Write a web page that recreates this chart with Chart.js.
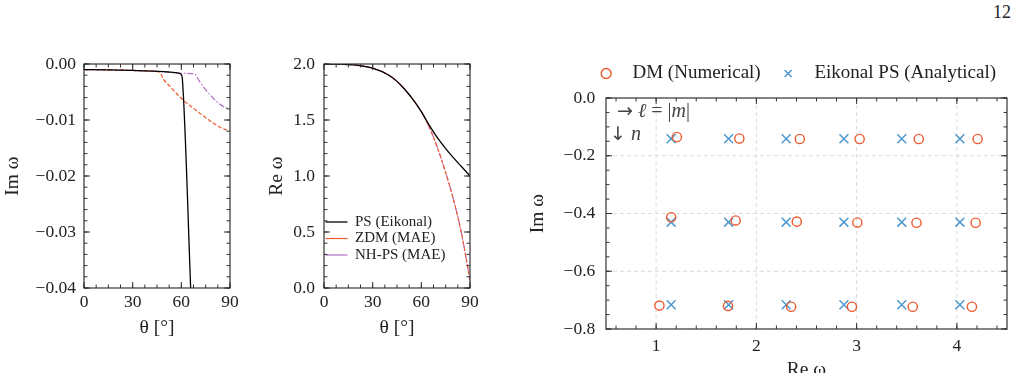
<!DOCTYPE html>
<html>
<head>
<meta charset="utf-8">
<script src="https://cdn.jsdelivr.net/npm/chart.js@4.4.1/dist/chart.umd.min.js"></script>
<style>
  html, body { margin: 0; padding: 0; background: #fff; width: 1020px; height: 373px; overflow: hidden; }
  .box { position: absolute; }
  #page { position: absolute; left: 993px; top: 3px; font: 18px 'Liberation Serif', serif; color: #222; line-height: 18px; }
</style>
</head>
<body>
<div id="page">12</div>
<div class="box" style="left:0;top:40px;width:250px;height:300px"><canvas id="c1"></canvas></div>
<div class="box" style="left:250px;top:40px;width:240px;height:300px"><canvas id="c2"></canvas></div>
<div class="box" style="left:520px;top:40px;width:500px;height:345px"><canvas id="c3"></canvas></div>
<script>
// === Data ===
// left panel: Im omega vs theta
const thetaPS = [0, 15, 30, 45, 55, 59, 60, 60.6, 66];
const imPS = [-0.00100, -0.00105, -0.00115, -0.00130, -0.00150, -0.00168, -0.00190, -0.00260, -0.04190];
const thetaZDM = [0, 15, 30, 45, 46.8, 48.9, 53, 60.2, 67.4, 75.6, 83.8, 90];
const imZDM = [-0.00100, -0.00105, -0.00115, -0.00135, -0.00150, -0.0027, -0.0040, -0.0062, -0.0079, -0.0097, -0.0113, -0.0120];
const thetaNH = [0, 15, 30, 45, 60, 68.4, 70.5, 73.6, 77.7, 81.8, 85.9, 90];
const imNH = [-0.00100, -0.00105, -0.00115, -0.00130, -0.00165, -0.00180, -0.0028, -0.0041, -0.0055, -0.0067, -0.0076, -0.0080];

// middle panel: Re omega vs theta
const thetaRe = [0, 10, 20, 30, 40, 45, 50, 55, 60, 64, 70, 75, 80, 85, 90];
const rePS = [2.0, 1.998, 1.99, 1.963, 1.90, 1.845, 1.77, 1.68, 1.575, 1.475, 1.34, 1.245, 1.16, 1.08, 1.0];
const reZDM = [2.0, 1.998, 1.99, 1.963, 1.90, 1.845, 1.77, 1.68, 1.575, 1.465, 1.25, 1.03, 0.78, 0.47, 0.07];
const reNH = [2.0, 1.998, 1.99, 1.963, 1.90, 1.845, 1.77, 1.68, 1.575, 1.465, 1.25, 1.03, 0.78, 0.47, 0.07];

// right panel: QNM spectrum
const reDM = [1.207, 1.83, 2.433, 3.03, 3.62, 4.207,
              1.15, 1.793, 2.403, 3.007, 3.597, 4.187,
              1.033, 1.717, 2.347, 2.953, 3.56, 4.15];
const imDM = [-0.135, -0.140, -0.142, -0.142, -0.142, -0.142,
              -0.413, -0.424, -0.428, -0.431, -0.432, -0.432,
              -0.719, -0.720, -0.723, -0.723, -0.723, -0.723];
const reEik = [1.15, 1.723, 2.297, 2.873, 3.45, 4.03,
               1.15, 1.723, 2.297, 2.873, 3.45, 4.03,
               1.15, 1.723, 2.297, 2.873, 3.45, 4.03];
const imEik = [-0.141, -0.141, -0.141, -0.141, -0.141, -0.141,
               -0.430, -0.430, -0.430, -0.430, -0.430, -0.430,
               -0.716, -0.716, -0.716, -0.716, -0.716, -0.716];
const reTicks = [1, 2, 3, 4];

const seriesLabels = ['PS (Eikonal)', 'ZDM (MAE)', 'NH-PS (MAE)'];
const scatterLabels = ['DM (Numerical)', 'Eikonal PS (Analytical)'];
// 0 = upright, 1 = italic, 2 = arrow glyph
const noteRight = [['\u2192', 2], [' ', 0], ['\u2113', 1], [' = |', 0], ['m', 1], ['|', 0]];
const noteDown = [['\u2193', 2], [' ', 0], ['n', 1]];

// === Styling ===
const ink = '#222';
const orange = '#EE5A30';
const blue = '#4D98CF';
const purple = '#B36FC3';
const serif = "'Liberation Serif', serif";
const tickFont = { family: serif, size: 17.5 };
const titleFont = { family: serif, size: 19.5 };

Chart.defaults.font.family = serif;
Chart.defaults.color = ink;

const pts = (xs, ys) => xs.map((x, i) => ({ x, y: ys[i] }));
const fmt = d => v => (v < 0 ? '\u2212' : '') + Math.abs(v).toFixed(d);
const noGrid = { display: false, drawTicks: false };

// === Frame with inward ticks (+ optional dashed grid) ===
const frame = {
  id: 'frame',
  beforeDatasetsDraw(chart, args, o) {
    if (!o.grid) return;
    const { ctx, chartArea: a, scales: { x, y } } = chart;
    ctx.save();
    ctx.strokeStyle = '#d2d2d2';
    ctx.lineWidth = 0.8;
    ctx.setLineDash([4, 3]);
    x.ticks.forEach(t => {
      const p = x.getPixelForValue(t.value);
      ctx.beginPath(); ctx.moveTo(p, a.top); ctx.lineTo(p, a.bottom); ctx.stroke();
    });
    y.ticks.forEach(t => {
      if (t.value <= y.min || t.value >= y.max) return;
      const p = y.getPixelForValue(t.value);
      ctx.beginPath(); ctx.moveTo(a.left, p); ctx.lineTo(a.right, p); ctx.stroke();
    });
    ctx.restore();
  },
  afterDatasetsDraw(chart, args, o) {
    const { ctx, chartArea: a, scales: { x, y } } = chart;
    const seg = (x1, y1, x2, y2) => { ctx.beginPath(); ctx.moveTo(x1, y1); ctx.lineTo(x2, y2); ctx.stroke(); };
    const steps = (s, step) => {
      const out = [];
      for (let i = Math.ceil(s.min / step - 1e-6); i * step <= s.max + 1e-9; i++) out.push(i * step);
      return out;
    };
    const tickX = (v, len) => { const p = x.getPixelForValue(v); seg(p, a.bottom, p, a.bottom - len); seg(p, a.top, p, a.top + len); };
    const tickY = (v, len) => { const p = y.getPixelForValue(v); seg(a.left, p, a.left + len, p); seg(a.right, p, a.right - len, p); };
    ctx.save();
    ctx.strokeStyle = '#333';
    ctx.lineWidth = 1;
    steps(x, o.minorX).forEach(v => tickX(v, 3.5));
    steps(y, o.minorY).forEach(v => tickY(v, 3.5));
    x.ticks.forEach(t => tickX(t.value, 6));
    y.ticks.forEach(t => tickY(t.value, 6));
    ctx.lineWidth = 1.2;
    ctx.strokeRect(a.left, a.top, a.right - a.left, a.bottom - a.top);
    ctx.restore();
  }
};

// === Text notes in the spectrum panel ===
const notes = {
  id: 'notes',
  afterDatasetsDraw(chart) {
    const { ctx, chartArea: a } = chart;
    const run = (parts, x, y) => {
      parts.forEach(([txt, k]) => {
        ctx.font = k === 2 ? "19px 'DejaVu Sans', sans-serif" : (k === 1 ? 'italic ' : '') + '20px ' + serif;
        ctx.fillText(txt, x, y);
        x += ctx.measureText(txt).width;
      });
    };
    ctx.save();
    ctx.fillStyle = '#444';
    ctx.textBaseline = 'middle';
    run(noteRight, a.left + 11, a.top + 14);
    run(noteDown, a.left + 4, a.top + 37);
    ctx.restore();
  }
};

function thetaAxis(h, tickPad) {
  return {
    type: 'linear', min: 0, max: 90,
    grid: noGrid, border: { display: false },
    ticks: { stepSize: 30, padding: tickPad, font: tickFont, color: ink, autoSkip: false, maxRotation: 0 },
    title: { display: true, text: '\u03b8 [\u00b0]', font: titleFont, color: ink, padding: { top: 0, bottom: 0.3 } },
    afterFit: s => { s.height = h; }
  };
}

const lineSet = (label, xs, ys, color, dash) => ({
  label, data: pts(xs, ys), borderColor: color, backgroundColor: color,
  borderWidth: dash.length ? 1.2 : 1.3, borderDash: dash, pointRadius: 0, cubicInterpolationMode: 'monotone'
});

// === Left: Im omega ===
new Chart(document.getElementById('c1'), {
  type: 'line',
  data: {
    datasets: [
      lineSet(seriesLabels[0], thetaPS, imPS, '#000', []),
      lineSet(seriesLabels[1], thetaZDM, imZDM, orange, [4, 2]),
      lineSet(seriesLabels[2], thetaNH, imNH, purple, [6, 2, 1.5, 2])
    ]
  },
  options: {
    responsive: true, maintainAspectRatio: false, animation: false,
    layout: { padding: { left: 0, right: 20, top: 24, bottom: 0 } },
    plugins: { legend: { display: false }, tooltip: { enabled: false }, frame: { minorX: 7.5, minorY: 0.002 } },
    scales: {
      x: thetaAxis(52, 4),
      y: {
        type: 'linear', min: -0.04, max: 0,
        grid: noGrid, border: { display: false },
        ticks: { stepSize: 0.01, padding: 8, font: tickFont, color: ink, callback: fmt(2) },
        title: { display: true, text: 'Im \u03c9', font: titleFont, color: ink, padding: { top: 1.6, bottom: 0 } },
        afterFit: s => { s.width = 84; }
      }
    }
  },
  plugins: [frame]
});

// === Middle: Re omega ===
new Chart(document.getElementById('c2'), {
  type: 'line',
  data: {
    datasets: [
      lineSet(seriesLabels[0], thetaRe, rePS, '#000', []),
      lineSet(seriesLabels[1], thetaRe, reZDM, orange, [4, 2]),
      lineSet(seriesLabels[2], thetaRe, reNH, purple, [6, 2, 1.5, 2])
    ]
  },
  options: {
    responsive: true, maintainAspectRatio: false, animation: false,
    layout: { padding: { left: 0, right: 20, top: 24, bottom: 0 } },
    plugins: {
      tooltip: { enabled: false },
      frame: { minorX: 7.5, minorY: 0.1 },
      legend: {
        position: 'chartArea', align: 'end',
        labels: {
          font: { family: serif, size: 15 }, color: ink, padding: 1.5,
          usePointStyle: true, pointStyle: 'line', pointStyleWidth: 22, boxHeight: 2
        }
      }
    },
    scales: {
      x: thetaAxis(52, 4),
      y: {
        type: 'linear', min: 0, max: 2,
        grid: noGrid, border: { display: false },
        ticks: { stepSize: 0.5, padding: 9, font: tickFont, color: ink, callback: fmt(1) },
        title: { display: true, text: 'Re \u03c9', font: titleFont, color: ink, padding: { top: 14.8, bottom: 0 } },
        afterFit: s => { s.width = 74; }
      }
    }
  },
  plugins: [frame]
});

// === Right: spectrum ===
const dummyAxis = (position, size) => ({
  type: 'linear', position, display: true,
  grid: noGrid, border: { display: false }, ticks: { display: false },
  afterFit: s => { if (position === 'top') s.height = size; else s.width = size; }
});

new Chart(document.getElementById('c3'), {
  type: 'scatter',
  data: {
    datasets: [
      { label: scatterLabels[0], xAxisID: 'x', yAxisID: 'y', data: pts(reDM, imDM), pointStyle: 'circle', pointRadius: 4.6, borderWidth: 1.4, borderColor: orange, backgroundColor: 'rgba(0,0,0,0)' },
      { label: scatterLabels[1], xAxisID: 'x', yAxisID: 'y', data: pts(reEik, imEik), pointStyle: 'crossRot', pointRadius: 6.3, borderWidth: 1.5, borderColor: blue, backgroundColor: 'rgba(0,0,0,0)' }
    ]
  },
  options: {
    responsive: true, maintainAspectRatio: false, animation: false,
    layout: { padding: { left: 0, right: 0, top: 0, bottom: 0 } },
    plugins: {
      tooltip: { enabled: false },
      frame: { minorX: 0.2, minorY: 0.05, grid: true },
      legend: {
        position: 'top', align: 'end',
        labels: {
          font: { family: serif, size: 19 }, color: ink, padding: 24,
          usePointStyle: true, boxWidth: 7, boxHeight: 7,
          generateLabels: chart => Chart.defaults.plugins.legend.labels.generateLabels(chart)
            .map(l => Object.assign(l, { text: '  \u2009' + l.text }))
        }
      }
    },
    scales: {
      x: {
        type: 'linear', min: 0.5, max: 4.5,
        grid: noGrid, border: { display: false },
        afterBuildTicks: s => { s.ticks = reTicks.map(value => ({ value })); },
        ticks: { padding: 7.2, font: tickFont, color: ink, autoSkip: false, maxRotation: 0, callback: v => String(v) },
        title: { display: true, text: 'Re \u03c9', font: titleFont, color: ink, padding: { top: 0, bottom: 3.3 } },
        afterFit: s => { s.height = 56; }
      },
      y: {
        type: 'linear', min: -0.8, max: 0,
        grid: noGrid, border: { display: false },
        ticks: { stepSize: 0.2, padding: 10.7, font: tickFont, color: ink, callback: fmt(1) },
        title: { display: true, text: 'Im \u03c9', font: titleFont, color: ink, padding: { top: 6.6, bottom: 0 } },
        afterFit: s => { s.width = 86; }
      },
      gapTop: dummyAxis('top', 5),
      gapRight: dummyAxis('right', 13)
    }
  },
  plugins: [frame, notes]
});
</script>
</body>
</html>
